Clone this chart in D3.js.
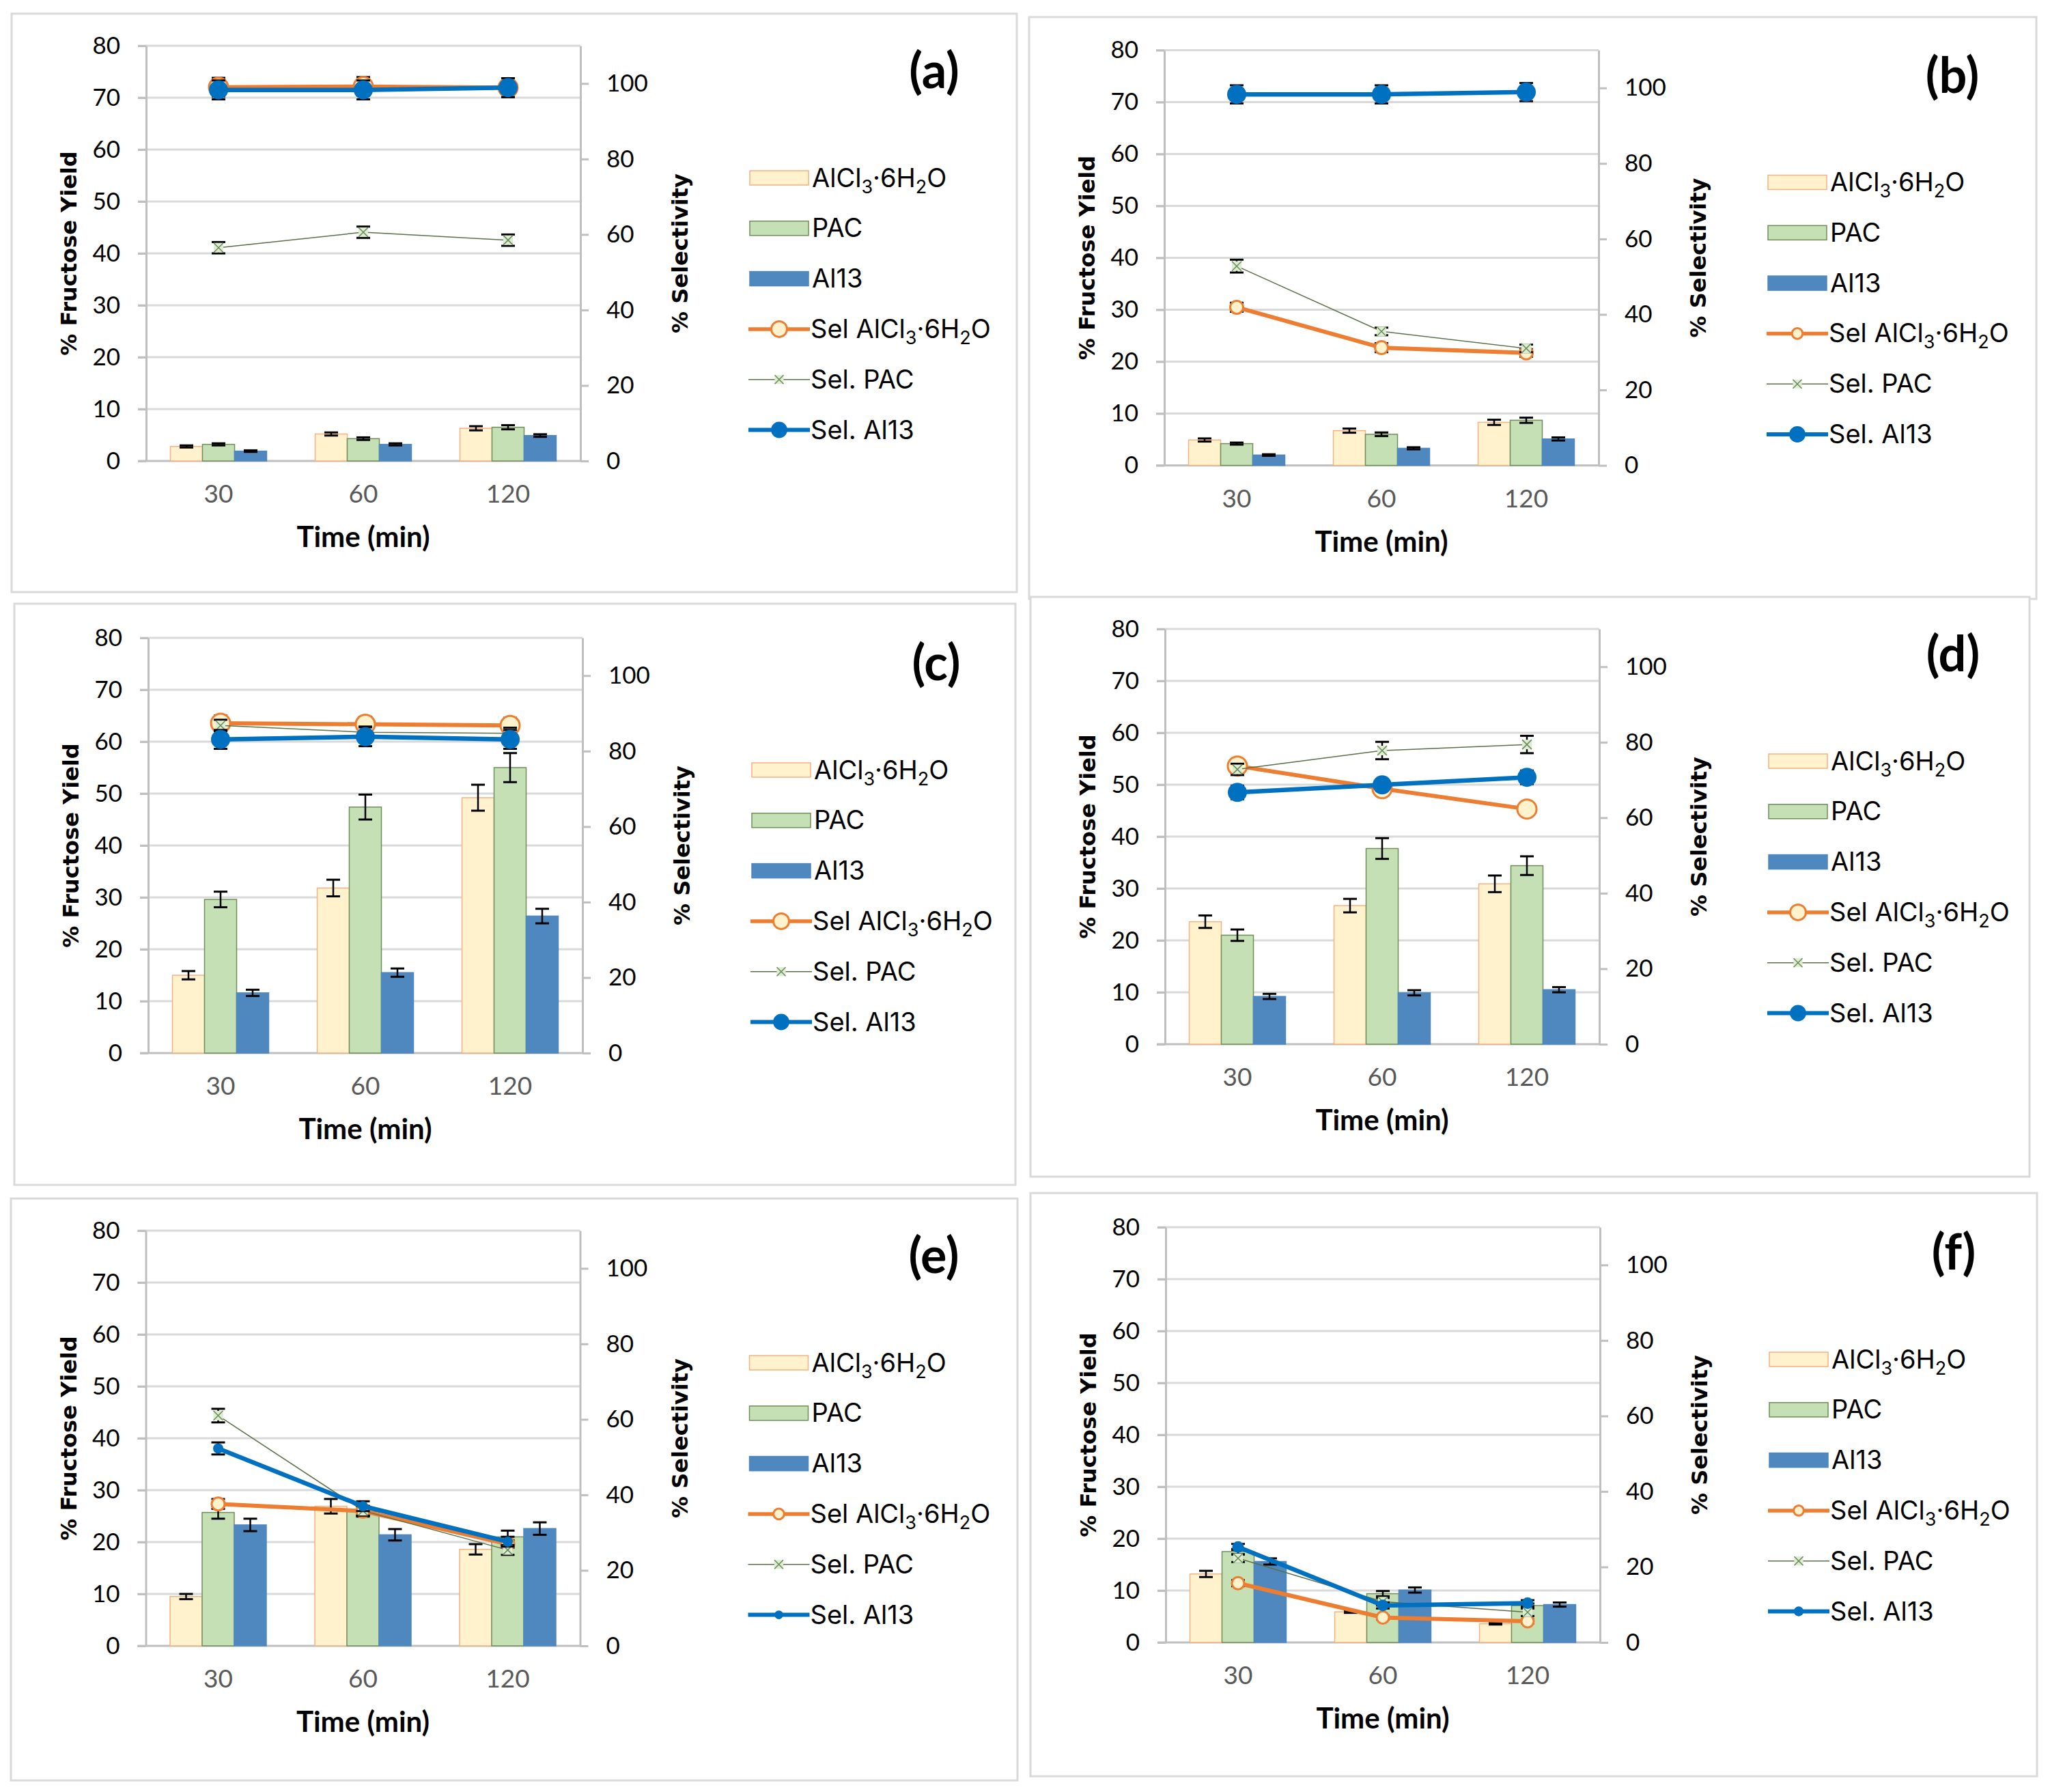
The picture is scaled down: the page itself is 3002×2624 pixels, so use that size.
<!DOCTYPE html>
<html>
<head>
<meta charset="utf-8">
<script src="https://cdn.jsdelivr.net/npm/d3@7"></script>
<style>
body { margin: 0; background: #fff; }
svg { display: block; }
</style>
</head>
<body>
<svg id="chart"></svg>
<script>
var times = ["30", "60", "120"];
var panelNames = ["(a)", "(b)", "(c)", "(d)", "(e)", "(f)"];
var yieldTicks = [0, 10, 20, 30, 40, 50, 60, 70, 80];
var selTicks = [0, 20, 40, 60, 80, 100];
var legendLabels = ["AlCl_3·6H_2O", "PAC", "Al13", "Sel AlCl_3·6H_2O", "Sel. PAC", "Sel. Al13"];

// % fructose yield, one row per panel, one value per time
var yieldAlCl3    = [[2.8, 5.2, 6.3], [4.9, 6.7, 8.3], [15.0, 31.8, 49.2], [23.6, 26.7, 30.9], [9.5, 26.9, 18.6], [13.2, 5.9, 3.6]];
var yieldAlCl3Err = [[0.2, 0.3, 0.4], [0.3, 0.4, 0.5], [0.8, 1.6, 2.5], [1.2, 1.3, 1.6], [0.5, 1.4, 1.0], [0.6, 0.2, 0.15]];
var yieldPAC      = [[3.2, 4.3, 6.5], [4.2, 6.0, 8.7], [29.6, 47.4, 55.0], [21.0, 37.7, 34.4], [25.7, 25.9, 21.0], [17.5, 9.4, 7.1]];
var yieldPACErr   = [[0.2, 0.25, 0.4], [0.2, 0.35, 0.5], [1.5, 2.4, 2.8], [1.1, 2.0, 1.8], [1.2, 1.0, 1.2], [0.5, 0.5, 0.4]];
var yieldAl13     = [[1.9, 3.2, 4.9], [2.0, 3.3, 5.1], [11.6, 15.5, 26.4], [9.2, 9.9, 10.5], [23.3, 21.4, 22.6], [15.6, 10.1, 7.3]];
var yieldAl13Err  = [[0.15, 0.2, 0.25], [0.15, 0.2, 0.3], [0.6, 0.8, 1.4], [0.5, 0.5, 0.5], [1.2, 1.1, 1.2], [0.6, 0.5, 0.4]];

// % selectivity (right axis)
var selAlCl3    = [[99.0, 99.2, 98.9], [41.9, 31.2, 29.8], [87.4, 87.1, 86.8], [73.7, 67.7, 62.3], [37.6, 35.7, 27.0], [15.7, 6.6, 5.6]];
var selAlCl3Err = [[2.5, 2.5, 2.5], [1.2, 1.2, 1.0], [2.0, 2.0, 2.0], [1.8, 1.5, 1.5], [1.3, 1.2, 1.0], [0.8, 0.5, 0.5]];
var selPAC      = [[56.5, 60.6, 58.5], [52.8, 35.5, 31.0], [86.8, 85.0, 84.7], [72.8, 77.8, 79.4], [61.0, 35.8, 25.4], [22.3, 10.8, 8.0]];
var selPACErr   = [[1.5, 1.5, 1.5], [1.7, 1.0, 1.0], [1.5, 1.5, 1.5], [1.5, 2.3, 2.3], [1.8, 1.3, 1.3], [1.0, 1.0, 1.0]];
var selAl13     = [[98.3, 98.3, 98.9], [98.3, 98.3, 98.9], [83.1, 83.8, 83.1], [66.7, 68.7, 70.7], [52.3, 37.0, 27.6], [25.3, 9.8, 10.4]];
var selAl13Err  = [[2.5, 2.5, 2.5], [2.4, 2.4, 2.4], [2.5, 2.5, 2.5], [1.8, 1.5, 1.8], [1.6, 1.3, 1.3], [0.8, 0.8, 0.8]];

// ---- layout / style ----
var frames = [[17, 20, 1472, 847], [1507, 25, 1475, 852], [21, 884, 1466, 851],
              [1509, 874, 1463, 849], [16, 1755, 1474, 852], [1509, 1747, 1474, 854]];
var plotOrigins = [[214, 67], [1705, 73.5], [217, 934], [1706, 921], [213.5, 1802], [1707, 1797]];
var markerAlCl3 = [14, 9.5, 14, 14, 9.5, 9];
var markerAl13 = [14, 14, 14, 14, 7.5, 8.5];

var W = 636, H = 608;
var gridColor = "#d9d9d9", axisColor = "#bfbfbf";
var barFill = ["#FFF2CC", "#C5E0B4", "#4F87BF"];
var barStroke = ["#F4B183", "#6F8F5A", "#4F87BF"];
var orange = "#ED7D31", blue = "#0070C0", pacLine = "#5A7048";

var svg = d3.select("#chart").attr("width", 3002).attr("height", 2624);
svg.append("rect").attr("width", 3002).attr("height", 2624).attr("fill", "#fff");

var x0 = d3.scaleBand().domain(times).range([0, W]);
var bw = x0.bandwidth();
var x1 = d3.scaleBand().domain([0, 1, 2]).range([bw * 0.1675, bw * 0.8325]);
var yL = d3.scaleLinear().domain([0, 80]).range([H, 0]);
var yR = d3.scaleLinear().domain([0, 110]).range([H, 0]);

function addLabel(text, label, big, small, shift) {
    var parts = label.split(/(_\d)/);
    var down = false;
    parts.forEach(function(s){
        if (!s) return;
        if (s[0] === "_") {
            text.append("tspan").attr("font-size", small).attr("dy", shift).text(s.slice(1));
            down = true;
        } else {
            text.append("tspan").attr("font-size", big).attr("dy", down ? -shift : 0).text(s);
            down = false;
        }
    });
}

function errorBar(g, cx, y0, y1, cap) {
    g.append("line").attr("x1", cx).attr("x2", cx).attr("y1", y0).attr("y2", y1)
        .attr("stroke", "#000").attr("stroke-width", 2.5);
    [y0, y1].forEach(function(y){
        g.append("line").attr("x1", cx - cap / 2).attr("x2", cx + cap / 2).attr("y1", y).attr("y2", y)
            .attr("stroke", "#000").attr("stroke-width", 3);
    });
}

function drawPacMarker(g, cx, cy, s) {
    g.append("rect").attr("x", cx - s / 2).attr("y", cy - s / 2).attr("width", s).attr("height", s)
        .attr("fill", "#DDEDD3");
    g.append("path")
        .attr("d", "M" + (cx - s / 2) + "," + (cy - s / 2) + "L" + (cx + s / 2) + "," + (cy + s / 2) +
                   "M" + (cx - s / 2) + "," + (cy + s / 2) + "L" + (cx + s / 2) + "," + (cy - s / 2))
        .attr("stroke", "#6A8A55").attr("stroke-width", 1.5).attr("fill", "none");
}

panelNames.forEach(function(name, p){
    var f = frames[p];
    svg.append("rect").attr("x", f[0]).attr("y", f[1]).attr("width", f[2]).attr("height", f[3])
        .attr("fill", "#fff").attr("stroke", gridColor).attr("stroke-width", 3);

    var g = svg.append("g").attr("transform", "translate(" + plotOrigins[p][0] + "," + plotOrigins[p][1] + ")");

    // gridlines
    g.selectAll(".grid").data(yieldTicks).enter().append("line")
        .attr("x1", -12).attr("x2", W)
        .attr("y1", function(d){ return yL(d); }).attr("y2", function(d){ return yL(d); })
        .attr("stroke", function(d){ return d === 0 ? axisColor : gridColor; })
        .attr("stroke-width", 3);

    // left axis
    var la = g.append("g").call(d3.axisLeft(yL).tickValues(yieldTicks).tickSize(12).tickSizeOuter(0).tickPadding(26));
    // right axis
    var ra = g.append("g").attr("transform", "translate(" + W + ",0)")
        .call(d3.axisRight(yR).tickValues(selTicks).tickSize(12).tickSizeOuter(0).tickPadding(26));
    [la, ra].forEach(function(a){
        a.select(".domain").attr("stroke", axisColor).attr("stroke-width", 3);
        a.selectAll(".tick line").attr("stroke", axisColor).attr("stroke-width", 3);
        a.selectAll(".tick text").attr("font-family", "Lato").attr("font-size", 35).attr("fill", "#000");
    });

    // x labels
    g.selectAll(".xl").data(times).enter().append("text")
        .attr("x", function(d){ return x0(d) + bw / 2; }).attr("y", 669)
        .attr("text-anchor", "middle").attr("font-family", "Lato").attr("font-size", 37)
        .attr("fill", "#595959").text(function(d){ return d; });

    // bars
    var bars = [yieldAlCl3[p], yieldPAC[p], yieldAl13[p]];
    var barErr = [yieldAlCl3Err[p], yieldPACErr[p], yieldAl13Err[p]];
    bars.forEach(function(vals, s){
        g.selectAll(".bar" + s).data(vals).enter().append("rect")
            .attr("x", function(d, i){ return x0(times[i]) + x1(s); })
            .attr("y", function(d){ return yL(d); })
            .attr("width", x1.bandwidth())
            .attr("height", function(d){ return H - yL(d); })
            .attr("fill", barFill[s]).attr("stroke", barStroke[s]).attr("stroke-width", 1.5);
    });
    bars.forEach(function(vals, s){
        vals.forEach(function(v, i){
            var cx = x0(times[i]) + x1(s) + x1.bandwidth() / 2;
            errorBar(g, cx, yL(v - barErr[s][i]), yL(v + barErr[s][i]), 20);
        });
    });

    // selectivity lines
    var cxOf = function(i){ return x0(times[i]) + bw / 2; };
    var line = d3.line().x(function(d, i){ return cxOf(i); }).y(function(d){ return yR(d); });

    // Sel AlCl3
    selAlCl3[p].forEach(function(v, i){ errorBar(g, cxOf(i), yR(v - selAlCl3Err[p][i]), yR(v + selAlCl3Err[p][i]), 20); });
    g.append("path").datum(selAlCl3[p]).attr("d", line).attr("fill", "none")
        .attr("stroke", orange).attr("stroke-width", 6).attr("stroke-linejoin", "round");
    g.selectAll(".mAl").data(selAlCl3[p]).enter().append("circle")
        .attr("cx", function(d, i){ return cxOf(i); }).attr("cy", function(d){ return yR(d); })
        .attr("r", markerAlCl3[p]).attr("fill", "#FFF2CC").attr("stroke", orange).attr("stroke-width", 3);

    // Sel PAC
    selPAC[p].forEach(function(v, i){ errorBar(g, cxOf(i), yR(v - selPACErr[p][i]), yR(v + selPACErr[p][i]), 20); });
    g.append("path").datum(selPAC[p]).attr("d", line).attr("fill", "none")
        .attr("stroke", pacLine).attr("stroke-width", 1.5);
    selPAC[p].forEach(function(v, i){ drawPacMarker(g, cxOf(i), yR(v), 14); });

    // Sel Al13
    selAl13[p].forEach(function(v, i){ errorBar(g, cxOf(i), yR(v - selAl13Err[p][i]), yR(v + selAl13Err[p][i]), 20); });
    g.append("path").datum(selAl13[p]).attr("d", line).attr("fill", "none")
        .attr("stroke", blue).attr("stroke-width", 6.5).attr("stroke-linejoin", "round");
    g.selectAll(".mB").data(selAl13[p]).enter().append("circle")
        .attr("cx", function(d, i){ return cxOf(i); }).attr("cy", function(d){ return yR(d); })
        .attr("r", markerAl13[p]).attr("fill", blue);

    // axis titles
    g.append("text").attr("transform", "translate(-113," + (H / 2) + ") rotate(-90)")
        .attr("text-anchor", "middle").attr("dy", "0.35em")
        .attr("font-family", "DejaVu Sans").attr("font-weight", "bold").attr("font-size", 32)
        .text("% Fructose Yield");
    g.append("text").attr("transform", "translate(782," + (H / 2) + ") rotate(-90)")
        .attr("text-anchor", "middle").attr("dy", "0.35em")
        .attr("font-family", "DejaVu Sans").attr("font-weight", "bold").attr("font-size", 32)
        .text("% Selectivity");
    g.append("text").attr("x", W / 2).attr("y", 734).attr("text-anchor", "middle")
        .attr("font-family", "Lato").attr("font-weight", "bold").attr("font-size", 42)
        .text("Time (min)");

    // panel letter
    g.append("text").attr("x", 1154).attr("y", 62).attr("text-anchor", "middle")
        .attr("font-family", "Lato").attr("font-weight", "bold").attr("font-size", 72)
        .text(name);

    // legend
    var lg = g.append("g").attr("transform", "translate(884,193.5)");
    legendLabels.forEach(function(lab, k){
        var row = lg.append("g").attr("transform", "translate(0," + (k * 73.8) + ")");
        if (k < 3) {
            row.append("rect").attr("x", 0).attr("y", -10.5).attr("width", 86).attr("height", 21)
                .attr("fill", barFill[k]).attr("stroke", barStroke[k]).attr("stroke-width", 1.5);
        } else if (k === 3) {
            row.append("line").attr("x1", -2).attr("x2", 88).attr("stroke", orange).attr("stroke-width", 5.5);
            row.append("circle").attr("cx", 43).attr("r", markerAlCl3[p] * 0.82)
                .attr("fill", "#FFF2CC").attr("stroke", orange).attr("stroke-width", 3);
        } else if (k === 4) {
            row.append("line").attr("x1", -2).attr("x2", 88).attr("stroke", pacLine).attr("stroke-width", 1.5);
            drawPacMarker(row, 43, 0, 13);
        } else {
            row.append("line").attr("x1", -2).attr("x2", 88).attr("stroke", blue).attr("stroke-width", 6);
            row.append("circle").attr("cx", 43).attr("r", markerAl13[p] * 0.85).attr("fill", blue);
        }
        var t = row.append("text").attr("x", k < 3 ? 91 : 89).attr("y", 13)
            .attr("font-family", "Inter").attr("font-size", 38).attr("fill", "#000");
        addLabel(t, lab, 38, 27, 9);
    });
});
</script>
</body>
</html>
